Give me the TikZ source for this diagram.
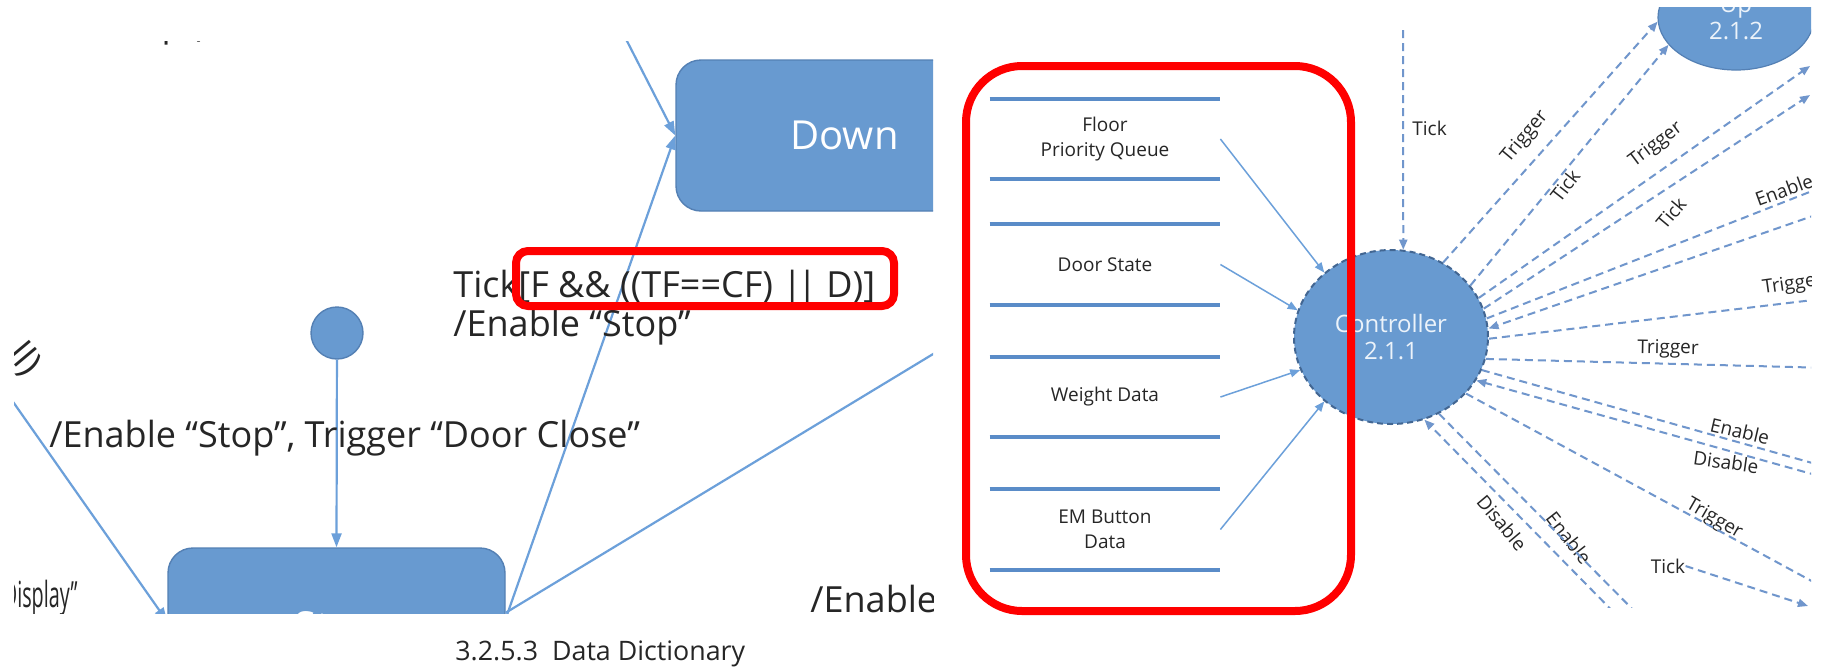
\documentclass[tikz,border=0pt]{standalone}
\usepackage{fontspec}
\setmainfont{Open Sans}
\usetikzlibrary{arrows.meta,shapes.geometric}

\definecolor{boxfill}{RGB}{104,154,208}
\definecolor{boxedge}{RGB}{84,128,180}
\definecolor{translin}{RGB}{108,160,218}
\definecolor{flowlin}{RGB}{112,150,204}
\definecolor{storelin}{RGB}{90,140,200}
\definecolor{ctrledge}{RGB}{66,102,146}
\definecolor{txtdark}{RGB}{38,38,38}
\definecolor{procfont}{RGB}{236,243,250}
\definecolor{markred}{RGB}{255,0,0}

\begin{document}
\begin{tikzpicture}[x=0.5pt,y=-0.5pt,
  statebox/.style={draw=boxedge, fill=boxfill, line width=0.7pt, rounded corners=12.5pt,
    minimum width=168.5pt, minimum height=75.5pt, text=white,
    font=\fontsize{20pt}{24pt}\selectfont},
  initstate/.style={circle, draw=boxedge, fill=boxfill, line width=0.7pt, minimum size=26pt, inner sep=0pt},
  transline/.style={draw=translin, line width=1.1pt},
  arrowend/.style={-{Triangle[length=7pt,width=5pt]}},
  lbl/.style={font=\fontsize{18pt}{21pt}\selectfont, text=txtdark, inner sep=0pt},
  smalltext/.style={font=\fontsize{9.5pt}{12.5pt}\selectfont, text=txtdark, inner sep=0pt},
  datastore/.style={minimum width=115pt, minimum height=40pt, inner sep=0pt, align=center, smalltext},
  storeline/.style={draw=storelin, line width=2pt},
  datalink/.style={draw=translin, line width=0.75pt, -{Triangle[length=5pt,width=4pt]}},
  process/.style={ellipse, fill=boxfill, inner sep=0pt, align=center, text=procfont,
    font=\fontsize{12pt}{13.5pt}\selectfont},
  flowline/.style={draw=flowlin, line width=1pt, dash pattern=on 4pt off 2.5pt},
  farrow/.style={-{Triangle[length=5pt,width=4pt]}},
  highlight/.style={draw=markred, line width=4pt}
]
\useasboundingbox (0,0) rectangle (1822,670);
\fill[white] (0,0) rectangle (1822,670);

% ---------------- state machine excerpt ----------------
\begin{scope}
  \clip (14,41) rectangle (933,613);
  \node[statebox] (down) at (844.5,135.5) {Down};
  \node[statebox, minimum height=82.5pt] (stop) at (336.5,630.5) {Stop};
  \node[initstate] (init) at (337,333) {};

  \coordinate (fromtop) at (606,0);
  \coordinate (fromleft) at (-10,369);
  \coordinate (toright) at (1100,253);

  \draw[transline,arrowend] (fromtop) -- (down.west);
  \draw[transline,arrowend] (stop.4) -- (down.west);
  \draw[transline] (stop.6) -- (toright);
  \draw[transline,arrowend] (fromleft) -- (stop.177);
  \draw[transline,arrowend] (init) -- (stop.north);

  \node[lbl, anchor=base west] (guard) at (453,297) {Tick[F \&\& ((TF==CF) |\kern-2.5pt| D)]};
  \node[lbl, anchor=base west] (act1) at (453,336) {/Enable “Stop”};
  \node[lbl, anchor=base west] (act2) at (49,447) {/Enable “Stop”, Trigger “Door Close”};
  \node[lbl, anchor=base east] (act3) at (78,607) {\scalebox{0.55}[1]{Display”}};
  \node[lbl, anchor=base west] (act4) at (810,612) {/Enable};
  \node[lbl, anchor=base east] (act5) at (207,36) {“Up”)};
  \node[lbl, rotate=-50] (act6) at (24,360) {ll)};
\end{scope}

\node[anchor=base west, inner sep=0pt, text=txtdark, font=\fontsize{13.4pt}{16pt}\selectfont]
  (caption) at (455,660) {3.2.5.3\hspace{7pt}Data Dictionary};

% ---------------- data flow excerpt ----------------
\begin{scope}
  \clip (940,7) rectangle (1811,607);

  \node[datastore] (floor)  at (1105,139)   {Floor\\Priority Queue};
  \node[datastore] (door)   at (1105,264.5) {Door State};
  \node[datastore] (weight) at (1105,397)   {Weight Data};
  \node[datastore] (embtn)  at (1105,529.5) {EM Button\\Data};
  \foreach \s in {floor,door,weight,embtn}{
    \draw[storeline] (\s.north west) -- (\s.north east);
    \draw[storeline] (\s.south west) -- (\s.south east);
  }

  \node[process, minimum width=97pt, minimum height=87pt,
        draw=ctrledge, line width=1pt, dash pattern=on 3pt off 2pt] (ctrl) at (1391,337) {Controller\\2.1.1};
  \node[process, minimum width=78pt, minimum height=52.5pt,
        draw=boxedge, line width=0.6pt] (up) at (1736,17.5) {Up\\2.1.2};

  \draw[datalink] (floor.east)  -- (ctrl.136);
  \draw[datalink] (door.east)   -- (ctrl.164);
  \draw[datalink] (weight.east) -- (ctrl.200);
  \draw[datalink] (embtn.east)  -- (ctrl.224);

  \coordinate (tickin)  at (1403,30);
  \coordinate (trigout) at (1810,66);
  \coordinate (tickout) at (1810,95);
  \coordinate (enout)   at (1830,184);
  \coordinate (enin)    at (1830,210);
  \coordinate (trgout)  at (1830,298);
  \coordinate (trhout)  at (1830,368);
  \coordinate (en2out)  at (1830,468);
  \coordinate (dis2in)  at (1830,479);
  \coordinate (tr3out)  at (1830,591);
  \coordinate (tickend) at (1808,606);
  \coordinate (en3out)  at (1663,640);
  \coordinate (dis3in)  at (1641,640);

  \node[smalltext, anchor=west] (l0) at (1412,128) {Tick};
  \node[smalltext, rotate=50]  (l1)  at (1525,137) {Trigger};
  \node[smalltext, rotate=52]  (l2)  at (1565,186) {Tick};
  \node[smalltext, rotate=37]  (l3)  at (1656,145) {Trigger};
  \node[smalltext, rotate=50]  (l4)  at (1671,213) {Tick};
  \node[smalltext, rotate=20]  (l5)  at (1784,190) {Enable};
  \node[smalltext, rotate=8]   (l6)  at (1793,285) {Trigger};
  \node[smalltext, rotate=-1]  (l7)  at (1668,349) {Trigger};
  \node[smalltext, rotate=-13] (l8)  at (1740,431) {Enable};
  \node[smalltext, rotate=-8]  (l9)  at (1726,462) {Disable};
  \node[smalltext, rotate=-30] (l10) at (1714,519) {Trigger};
  \node[smalltext]             (ticklbl) at (1668,566) {Tick};
  \node[smalltext, rotate=-50] (l12) at (1502,523) {Disable};
  \node[smalltext, rotate=-52] (l13) at (1569,538) {Enable};

  \draw[flowline,farrow] (tickin) -- (ctrl.82);
  \draw[flowline,farrow] (ctrl.55) -- (up.183);
  \draw[flowline,farrow] (ctrl.33) -- (up.202);
  \draw[flowline,farrow] (ctrl.24) -- (trigout);
  \draw[flowline,farrow] (ctrl.17) -- (tickout);
  \draw[flowline,farrow] (ctrl.11) -- (enout);
  \draw[flowline,farrow] (enin) -- (ctrl.5);
  \draw[flowline,farrow] (ctrl.-1) -- (trgout);
  \draw[flowline,farrow] (ctrl.-13) -- (trhout);
  \draw[flowline,farrow] (ctrl.-20) -- (en2out);
  \draw[flowline,farrow] (dis2in) -- (ctrl.-27);
  \draw[flowline,farrow] (ctrl.-37) -- (tr3out);
  \draw[flowline,farrow] (ticklbl.east) -- (tickend);
  \draw[flowline,farrow] (ctrl.-58) -- (en3out);
  \draw[flowline,farrow] (dis3in) -- (ctrl.-68);
\end{scope}

% ---------------- red highlight frames ----------------
\draw[highlight, rounded corners=6pt] (516,251) rectangle (894,306);
\draw[highlight, rounded corners=28pt] (966,66) rectangle (1351,611);
\end{tikzpicture}
\end{document}
